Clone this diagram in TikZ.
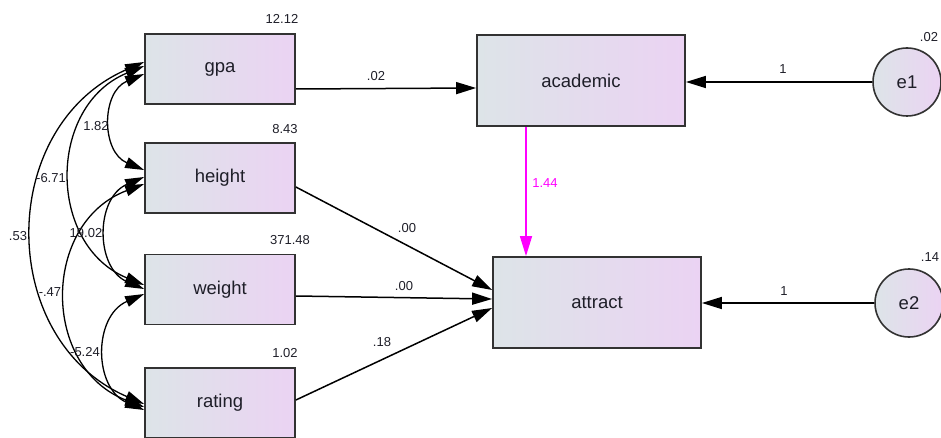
\documentclass[tikz,border=0pt]{standalone}
\usepackage{fontspec}
\setmainfont{Liberation Sans}
\usetikzlibrary{arrows.meta}
\definecolor{boxleft}{RGB}{221,228,232}
\definecolor{boxright}{RGB}{235,211,243}
\definecolor{edge}{RGB}{50,50,50}
\definecolor{txt}{RGB}{30,30,40}
\definecolor{pathmag}{RGB}{255,0,255}
\begin{document}
\begin{tikzpicture}[x=1pt,y=-1pt,
  var/.style={draw=edge, line width=1.8pt, left color=boxleft, right color=boxright,
    minimum width=150pt, minimum height=70pt, inner sep=0pt,
    font=\fontsize{18.5}{22}\selectfont, text=txt},
  endo/.style={var, minimum width=208pt, minimum height=91pt},
  err/.style={circle, draw=edge, line width=1.6pt, left color=boxleft, right color=boxright,
    minimum size=68pt, inner sep=0pt, font=\fontsize{18.5}{22}\selectfont, text=txt},
  num/.style={font=\fontsize{13}{15}\selectfont, text=txt, inner sep=0pt},
  regpath/.style={-{Triangle[length=20pt,width=12pt]}, line width=1.5pt},
  cov/.style={{Triangle[length=19pt,width=11pt]}-{Triangle[length=19pt,width=11pt]}, line width=1.3pt},
]
\useasboundingbox (0,0) rectangle (941,438);

% observed variables
\node[var] (gpa) at (220,69) {gpa};
\node[var] (height) at (220,178) {height};
\node[var] (weight) at (220,289.5) {weight};
\node[var] (rating) at (220,403) {rating};
\node[endo] (academic) at (581,80.5) {academic};
\node[endo] (attract) at (597,302.5) {attract};
% error terms
\node[err] (e1) at (907,82) {e1};
\node[err] (e2) at (909,303) {e2};

% variances
\node[num] (vgpa) at (282,19) {12.12};
\node[num] (vheight) at (285,129) {8.43};
\node[num] (vweight) at (290,240) {371.48};
\node[num] (vrating) at (285,353) {1.02};
\node[num] (ve1) at (929,37) {.02};
\node[num] (ve2) at (930,257) {.14};

% regression paths
\draw[regpath] ([yshift=-20pt]gpa.east) -- ([yshift=-7.5pt]academic.west);
\draw[regpath] ([yshift=-9pt]height.east) -- ([yshift=12.5pt]attract.west);
\draw[regpath] ([yshift=-6.5pt]weight.east) -- ([yshift=3.5pt]attract.west);
\draw[regpath] ([yshift=3pt]rating.east) -- ([yshift=-5.5pt]attract.west);
\draw[regpath] (e1.west) -- (academic.east |- e1.west);
\draw[regpath] (e2.west) -- (attract.east |- e2.west);
\draw[regpath, draw=pathmag] ([xshift=-55pt]academic.south) -- ([xshift=-55pt]academic.south |- attract.north);

\node[num] (lgpa) at (376,76) {.02};
\node[num] (le1) at (783,69) {1};
\node[num, text=pathmag] (lacad) at (545,183) {1.44};
\node[num] (lheight) at (407,228) {.00};
\node[num] (lweight) at (404,286) {.00};
\node[num] (lrating) at (382,342) {.18};
\node[num] (le2) at (784,291) {1};

% covariances
\draw[cov] ([yshift=7pt]gpa.west) .. controls +(-148,64) and +(-148,-64) .. ([yshift=-1pt]rating.west);
\draw[cov] ([yshift=3pt]gpa.west) .. controls +(-97,40) and +(-97,-40) .. ([yshift=4.5pt]weight.west);
\draw[cov] ([yshift=-5pt]gpa.west) .. controls +(-43,18) and +(-43,-18) .. ([yshift=8pt]height.west);
\draw[cov] ([yshift=1pt]height.west) .. controls +(-49,21) and +(-49,-21) .. ([yshift=0.5pt]weight.west);
\draw[cov] ([yshift=-6pt]height.west) .. controls +(-103,39) and +(-103,-39) .. ([yshift=-4pt]rating.west);
\draw[cov] ([yshift=-4.5pt]weight.west) .. controls +(-51,22) and +(-51,-22) .. ([yshift=-7pt]rating.west);

\node[num] (c1) at (96,126) {1.82};
\node[num] (c2) at (51,178) {-6.71};
\node[num] (c3) at (18,236) {.53};
\node[num] (c4) at (86,233) {19.02};
\node[num] (c5) at (50,292) {-.47};
\node[num] (c6) at (85,352) {-5.24};
\end{tikzpicture}
\end{document}
